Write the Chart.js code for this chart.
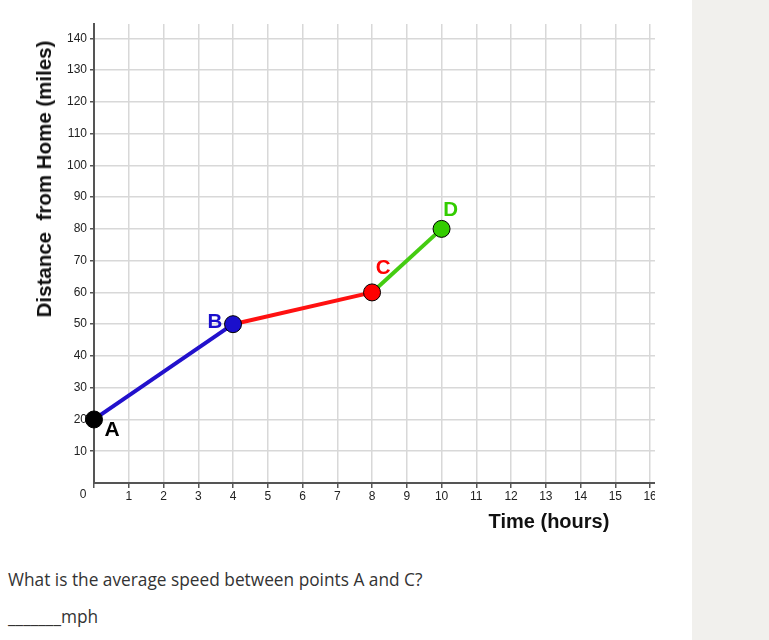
<!DOCTYPE html>
<html lang="en">
<head>
<meta charset="UTF-8">
<script src="https://cdn.jsdelivr.net/npm/chart.js@4"></script>
<title>Distance from Home</title>
<style>
    body { margin: 0; width: 769px; height: 640px; position: relative; overflow: hidden; background: #fff; font-family: "Liberation Sans", Arial, sans-serif; }
    #grafico-box { position: absolute; left: 0; top: 0; width: 655px; height: 520px; overflow: hidden; }
    #grafico1 { position: absolute; left: 0; top: 0; }
    #lato { position: absolute; left: 692px; top: 0; width: 77px; height: 640px; background: #f1f0ed; }
    .titolo-y { position: absolute; left: 44px; top: 179px; transform: translate(-50%, -50%) rotate(-90deg); font-weight: bold; font-size: 20.5px; color: #111; white-space: pre; }
    .titolo-x { position: absolute; left: 549px; top: 521px; transform: translate(-50%, -50%); font-weight: bold; font-size: 20px; color: #111; white-space: nowrap; }
    .domanda { position: absolute; left: 8px; top: 568px; font-family: "Open Sans", sans-serif; font-size: 17.3px; color: #333; white-space: nowrap; }
    .risposta { position: absolute; left: 8px; top: 605px; font-family: "Open Sans", sans-serif; font-size: 17.3px; color: #333; white-space: nowrap; }
</style>
</head>
<body>
    <div id="grafico-box"><canvas id="grafico1" width="700" height="520"></canvas></div>
    <div class="titolo-y">Distance  from Home (miles)</div>
    <div class="titolo-x">Time (hours)</div>
    <div class="domanda">What is the average speed between points A and C?</div>
    <div class="risposta">_______mph</div>
    <div id="lato"></div>

<script>
    // dati
    var tempi = [0, 4, 8, 10];
    var distanze = [20, 50, 60, 80];
    var nomiPunti = ['A', 'B', 'C', 'D'];
    var tickTempo = [0, 1, 2, 3, 4, 5, 6, 7, 8, 9, 10, 11, 12, 13, 14, 15, 16];
    var tickDistanza = [0, 10, 20, 30, 40, 50, 60, 70, 80, 90, 100, 110, 120, 130, 140];

    var coloriPunti = ['#000000', '#1a0fcc', '#ff0000', '#33cc00'];
    var coloriTratti = ['#2211cc', '#ff1111', '#44cc11'];
    var spostamenti = [[18, 11], [-18, -2], [11, -24], [9, -19]];
    var grandezze = [21, 20.5, 20.5, 20.5];

    // lettere vicino ai punti + lo "0" dell'origine
    var etichettePunti = {
        id: 'etichettePunti',
        beforeDatasetsDraw: function(chart) {
            var ctx = chart.ctx;
            var meta = chart.getDatasetMeta(0);
            ctx.save();
            ctx.textAlign = 'center';
            ctx.textBaseline = 'middle';
            meta.data.forEach(function(p, i) {
                ctx.font = 'bold ' + grandezze[i] + 'px "Liberation Sans", Arial, sans-serif';
                ctx.fillStyle = coloriPunti[i];
                ctx.fillText(nomiPunti[i], p.x + spostamenti[i][0], p.y + spostamenti[i][1]);
            });
            ctx.font = '12px "Liberation Sans", Arial, sans-serif';
            ctx.fillStyle = '#222';
            ctx.fillText('0', chart.scales.x.getPixelForValue(0) - 11, chart.scales.y.getPixelForValue(0) + 12);
            ctx.restore();
        }
    };

    var data = {
        datasets: [{
            data: tempi.map(function(t, i) { return { x: t, y: distanze[i] }; }),
            clip: false,
            borderWidth: 4,
            borderColor: coloriTratti[0],
            segment: {
                borderColor: function(c) { return coloriTratti[c.p0DataIndex]; }
            },
            pointRadius: 8.5,
            pointHoverRadius: 8.5,
            pointBorderWidth: 1,
            pointBorderColor: '#000',
            pointBackgroundColor: coloriPunti,
            tension: 0
        }]
    };

    var options = {
        responsive: false,
        animation: false,
        layout: { padding: { left: 0, top: 24, right: 44, bottom: 0 } },
        plugins: {
            legend: { display: false },
            tooltip: { enabled: false }
        },
        scales: {
            x: {
                type: 'linear',
                min: 0,
                max: 16.17,
                afterBuildTicks: function(asse) { asse.ticks = tickTempo.map(function(v) { return { value: v }; }); },
                afterFit: function(asse) { asse.height = 37; },
                grid: { color: '#d8d8d8', lineWidth: 1.5, tickLength: 5, tickColor: '#555' },
                border: { color: '#555', width: 2 },
                ticks: {
                    padding: 1,
                    color: '#222',
                    maxRotation: 0,
                    font: { size: 12, family: '"Liberation Sans", Arial, sans-serif' },
                    callback: function(v) { return v === 0 ? '' : v; }
                }
            },
            y: {
                min: 0,
                max: 144.5,
                afterBuildTicks: function(asse) { asse.ticks = tickDistanza.map(function(v) { return { value: v }; }); },
                afterFit: function(asse) { asse.width = 94; },
                grid: {
                    color: '#d8d8d8',
                    lineWidth: 1.5,
                    tickLength: 4,
                    tickColor: function(c) { return c.tick && c.tick.value === 0 ? 'rgba(0,0,0,0)' : '#555'; }
                },
                border: { color: '#555', width: 2 },
                ticks: {
                    padding: 3,
                    color: '#222',
                    font: { size: 12, family: '"Liberation Sans", Arial, sans-serif' },
                    callback: function(v) { return v === 0 ? '' : v; }
                }
            }
        }
    };

    var config = {
        type: 'line',
        data: data,
        options: options,
        plugins: [etichettePunti]
    };

    var myChart = new Chart('grafico1', config);
</script>
</body>
</html>
